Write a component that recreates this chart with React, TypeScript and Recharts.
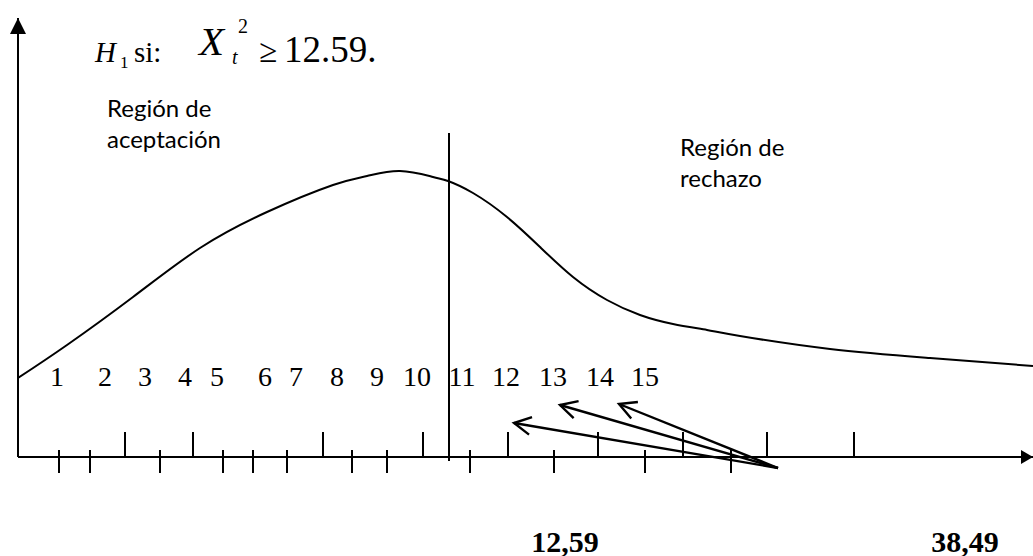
import React from 'react';
import { ComposedChart, Line, Scatter, XAxis, YAxis, ReferenceLine, ReferenceDot } from 'recharts';

const W = 1033;
const H = 556;

// units: 1 unit = 1px, x measured from the vertical axis, y above the horizontal axis
const curveX = [0, 49, 115, 182, 249, 315, 349, 382, 415, 430, 455, 489, 522, 555, 589, 622, 655, 689, 722, 812, 912, 1015];
const curveY = [79, 112, 160, 209, 245, 272, 281, 286, 280, 276, 264, 240, 210, 180, 157, 142, 133, 127, 121, 108, 99, 91];

const upTicks = [107, 175, 305, 405, 490, 580, 665, 749, 836];
const crossTicks = [41, 72, 142, 205, 235, 269, 334, 369, 452, 536, 627, 713];

const numberLabels = ['1', '2', '3', '4', '5', '6', '7', '8', '9', '10', '11', '12', '13', '14', '15'];
const numberLabelX = [39, 87, 127, 167, 199, 247, 278, 319, 359, 399, 444, 488, 535, 582, 627];

const criticalValue = 431;
const criticalTicks = [547, 947];
const criticalLabels = ['12,59', '38,49'];

const arrowTail = { x: 760, y: -11 };
const arrowHeadX = [496, 542, 601];
const arrowHeadY = [34, 52, 53];

const curveData = curveX.map((x, i) => ({ x, y: curveY[i] }));
const NUMBER_ROW = 81;
const numberData = numberLabelX.map((x, i) => ({ x, y: NUMBER_ROW, label: numberLabels[i] }));

const serif = '"Liberation Serif", "Times New Roman", serif';
const sans = 'Lato, "Noto Sans", sans-serif';

const NumberLabel = (p: any) => (
  <text x={p.cx} y={p.cy} textAnchor="middle" dominantBaseline="central" fontFamily={serif} fontSize={28} fill="#000">
    {p.payload.label}
  </text>
);

const CriticalTick = (p: any) => {
  const i = criticalTicks.indexOf(p.payload.value);
  return (
    <text x={p.x} y={p.y} textAnchor="middle" dy="0.35em" fontFamily={serif} fontWeight="bold" fontSize={30} fill="#000">
      {criticalLabels[i]}
    </text>
  );
};

const headShape = (hx: number, hy: number) => (p: any) => {
  // direction from tip back towards the tail, in screen pixels
  let dx = arrowTail.x - hx;
  let dy = -(arrowTail.y - hy);
  const len = Math.hypot(dx, dy);
  dx /= len;
  dy /= len;
  const a = (28 * Math.PI) / 180;
  const L = 19;
  const b1x = p.cx + L * (dx * Math.cos(a) - dy * Math.sin(a));
  const b1y = p.cy + L * (dx * Math.sin(a) + dy * Math.cos(a));
  const b2x = p.cx + L * (dx * Math.cos(-a) - dy * Math.sin(-a));
  const b2y = p.cy + L * (dx * Math.sin(-a) + dy * Math.cos(-a));
  return (
    <polyline
      points={`${b1x},${b1y} ${p.cx},${p.cy} ${b2x},${b2y}`}
      fill="none"
      stroke="#000"
      strokeWidth={2.4}
    />
  );
};

export default function App() {
  return (
    <div style={{ position: 'absolute', left: 0, top: 0, width: W, height: H, background: '#fff' }}>
      <ComposedChart width={W} height={H} margin={{ top: 18, right: 0, bottom: 0, left: 0 }}>
        <XAxis
          type="number"
          dataKey="x"
          domain={[0, 1015]}
          allowDataOverflow
          ticks={criticalTicks}
          interval={0}
          tick={CriticalTick}
          tickLine={false}
          tickSize={0}
          tickMargin={84}
          height={99}
          axisLine={{ stroke: '#000', strokeWidth: 2 }}
        />
        <YAxis
          type="number"
          dataKey="y"
          domain={[0, 439]}
          allowDataOverflow
          width={18}
          tick={false}
          tickLine={false}
          axisLine={{ stroke: '#000', strokeWidth: 2 }}
        />

        {upTicks.map((x) => (
          <ReferenceLine key={'u' + x} segment={[{ x, y: 0 }, { x, y: 25 }]} stroke="#000" strokeWidth={2} ifOverflow="visible" />
        ))}
        {crossTicks.map((x) => (
          <ReferenceLine key={'c' + x} segment={[{ x, y: 7 }, { x, y: -16 }]} stroke="#000" strokeWidth={2} ifOverflow="visible" />
        ))}

        <ReferenceLine
          segment={[{ x: criticalValue, y: -4 }, { x: criticalValue, y: 324 }]}
          stroke="#000"
          strokeWidth={2}
          ifOverflow="visible"
        />

        <Line data={curveData} dataKey="y" type="natural" stroke="#000" strokeWidth={2} dot={false} isAnimationActive={false} />

        <Scatter data={numberData} dataKey="y" shape={NumberLabel} isAnimationActive={false} />

        {arrowHeadX.map((hx, i) => (
          <ReferenceLine
            key={'a' + i}
            segment={[arrowTail, { x: hx, y: arrowHeadY[i] }]}
            stroke="#000"
            strokeWidth={2.4}
            ifOverflow="visible"
          />
        ))}
        {arrowHeadX.map((hx, i) => (
          <ReferenceDot key={'h' + i} x={hx} y={arrowHeadY[i]} shape={headShape(hx, arrowHeadY[i])} ifOverflow="visible" />
        ))}

        <ReferenceDot
          x={1015}
          y={0}
          ifOverflow="visible"
          shape={(p: any) => <polygon points={`${p.cx},${p.cy} ${p.cx - 12},${p.cy - 7} ${p.cx - 12},${p.cy + 7}`} fill="#000" />}
        />
        <ReferenceDot
          x={0}
          y={439}
          ifOverflow="visible"
          shape={(p: any) => <polygon points={`${p.cx},${p.cy} ${p.cx - 8},${p.cy + 16} ${p.cx + 8},${p.cy + 16}`} fill="#000" />}
        />
      </ComposedChart>

      <svg width={W} height={H} style={{ position: 'absolute', left: 0, top: 0, pointerEvents: 'none' }}>
        <g fontFamily={serif} fill="#000">
          <text x={95} y={62} fontSize={29} fontStyle="italic">H</text>
          <text x={120} y={68} fontSize={17}>1</text>
          <text x={134} y={62} fontSize={29}>si:</text>
          <text x={199} y={55} fontSize={41} fontStyle="italic">X</text>
          <text x={232} y={64} fontSize={20} fontStyle="italic">t</text>
          <text x={238} y={33} fontSize={20}>2</text>
          <text x={259} y={62} fontSize={33}>≥</text>
          <text x={284} y={62} fontSize={37}>12.59.</text>
        </g>
        <g fontFamily={sans} fontSize={24} fill="#000">
          <text x={107} y={117}>Región de</text>
          <text x={107} y={148}>aceptación</text>
          <text x={680} y={156}>Región de</text>
          <text x={680} y={187}>rechazo</text>
        </g>
      </svg>
    </div>
  );
}
